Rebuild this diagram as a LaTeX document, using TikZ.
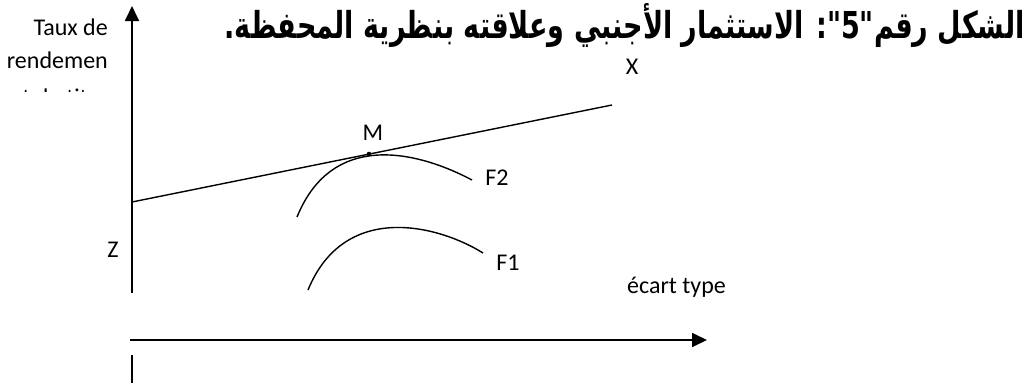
\documentclass[tikz,border=0pt]{standalone}
\usepackage{fontspec}
\usepackage{graphicx}
\setmainfont{Carlito}
\newfontfamily\arabicfont[Script=Arabic]{DejaVu Sans}
\TeXXeTstate=1
\usetikzlibrary{arrows.meta}
\begin{document}
\begin{tikzpicture}[x=1pt,y=-1pt,
  axis/.style={line width=1.8pt},
  curve/.style={line width=1.4pt},
  lbl/.style={font=\fontsize{24}{28}\selectfont, inner sep=0pt},
  tipped/.style={-{Triangle[length=15pt,width=14pt]}}]
\useasboundingbox (0,0) rectangle (1030,383);
% axes
\coordinate (yo) at (132,293);
\coordinate (yt) at (132,6);
\coordinate (yb1) at (132,355);
\coordinate (yb2) at (132,383);
\coordinate (xo) at (130,340);
\coordinate (xt) at (707,340);
\draw[axis,tipped] (yo) -- (yt);
\draw[axis] (yb1) -- (yb2);
\draw[axis,tipped] (xo) -- (xt);
% line Z-X
\coordinate (zl) at (132,202);
\coordinate (xl) at (612,105);
\draw[curve] (zl) -- (xl);
% curves
\coordinate (f2a) at (297,217);
\coordinate (f2b) at (472,180);
\draw[curve] (f2a) .. controls (333.7,126.8) and (423.3,154.1) .. (f2b);
\coordinate (f1a) at (308,290);
\coordinate (f1b) at (483,253);
\draw[curve] (f1a) .. controls (345,199.8) and (440,226) .. (f1b);
% tangent point
\coordinate (m) at (369,154);
\fill (m) circle (2.3pt);
% labels
\node[lbl] (Mlab) at (373,133) {M};
\node[lbl] (F2lab) at (497,178) {F2};
\node[lbl] (F1lab) at (508,263) {F1};
\node[lbl] (Zlab) at (113,250) {Z};
\node[lbl] (Xlab) at (632,67) {X};
\node[lbl, anchor=base west] (ecart) at (627,293) {écart type};
\node[lbl, anchor=base east] (t1) at (108,35) {Taux de};
\node[lbl, anchor=base east] (t2) at (108,68) {rendemen};
\begin{scope}
\clip (0,0) rectangle (130,91);
\node[lbl, anchor=base east] (t3) at (108,105) {t du titre};
\end{scope}
% title
\node[anchor=base east, inner sep=0pt] (title) at (1025,38) {\resizebox{800pt}{35pt}{\arabicfont\bfseries\beginR الشكل رقم"5": الاستثمار الأجنبي وعلاقته بنظرية المحفظة.\endR}};
\end{tikzpicture}
\end{document}
